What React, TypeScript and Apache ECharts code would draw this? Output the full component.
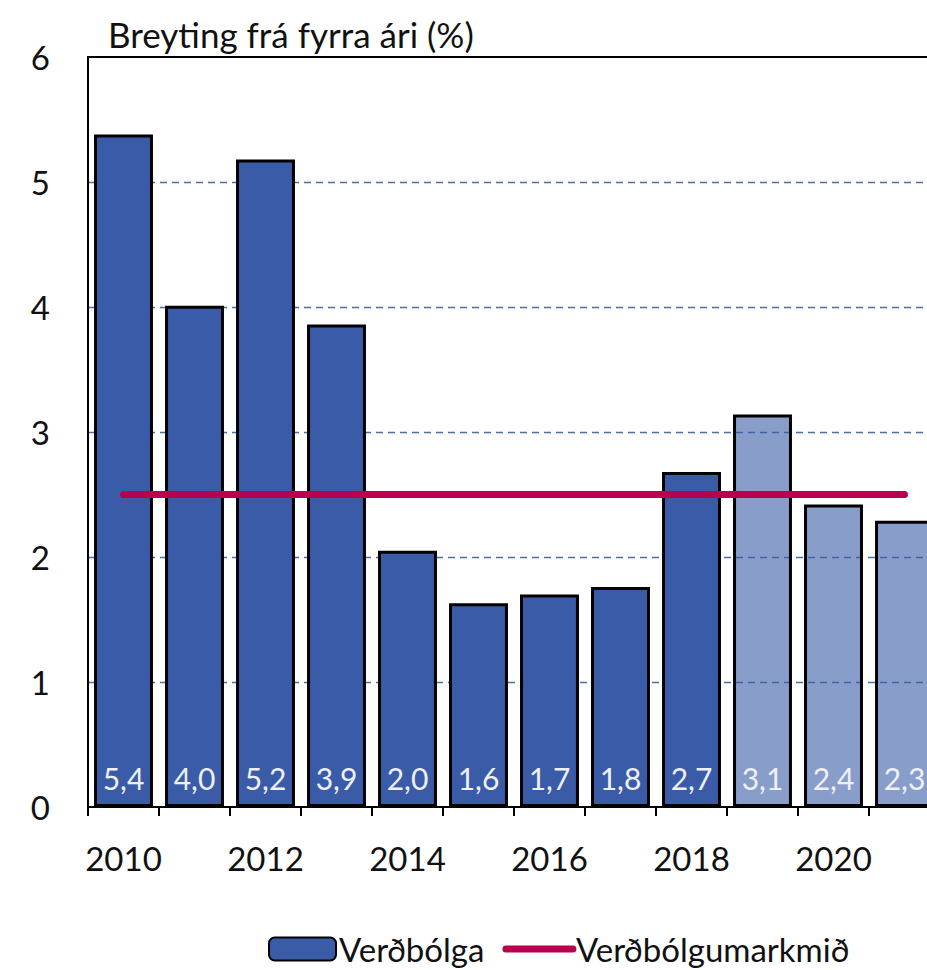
import React, { useEffect, useRef } from "react";
import * as echarts from "echarts";

const categories = ["2010", "2011", "2012", "2013", "2014", "2015", "2016", "2017", "2018", "2019", "2020", "2021"];
const inflation = [5.38, 4.01, 5.18, 3.86, 2.05, 1.63, 1.7, 1.76, 2.68, 3.14, 2.42, 2.29];
const isForecast = [false, false, false, false, false, false, false, false, false, true, true, true];
const target = [2.5, 2.5, 2.5, 2.5, 2.5, 2.5, 2.5, 2.5, 2.5, 2.5, 2.5, 2.5];
const yTicks = [0, 1, 2, 3, 4, 5, 6];

const FONT = "Lato";
const DARK = "#3a5ba8";
const LIGHT = "rgba(58,91,168,0.6)";
const GRID_BLUE = "#4a6fa5";
const TARGET_RED = "#b8004f";

export default function App() {
  const ref = useRef<HTMLDivElement>(null);
  useEffect(() => {
    if (!ref.current) return;
    const chart = echarts.init(ref.current, undefined, { renderer: "svg" });
    chart.setOption({
      animation: false,
      textStyle: { fontFamily: FONT },
      title: {
        text: "Breyting frá fyrra ári (%)",
        left: 103,
        top: 11,
        textStyle: { fontFamily: FONT, fontSize: 35, fontWeight: "normal", color: "#111" },
      },
      grid: {
        left: 88,
        top: 57,
        width: 852,
        height: 750,
        show: false,
      },
      legend: {
        left: 263,
        top: 927,
        itemWidth: 67,
        itemHeight: 23,
        itemGap: 18,
        textStyle: { fontFamily: FONT, fontSize: 33, lineHeight: 34, color: "#111", padding: [0, 0, 0, -2] },
        data: [
          { name: "Verðbólga" },
          {
            name: "Verðbólgumarkmið",
            itemStyle: { opacity: 0 },
            lineStyle: { color: TARGET_RED, width: 7, cap: "round" },
          },
        ],
      },
      xAxis: [
        {
          type: "category",
          data: categories,
          boundaryGap: true,
          axisLine: { lineStyle: { color: "#000", width: 2 } },
          axisTick: { show: true, length: 9, inside: false, lineStyle: { color: "#000", width: 2 }, interval: 0 },
          axisLabel: { interval: 1, margin: 34, fontFamily: FONT, fontSize: 33, color: "#111" },
          splitLine: { show: false },
        },
        {
          type: "category",
          data: categories,
          position: "top",
          axisLine: { show: true, lineStyle: { color: "#000", width: 2 } },
          axisTick: { show: false },
          axisLabel: { show: false },
          splitLine: { show: false },
        },
      ],
      yAxis: {
        type: "value",
        min: yTicks[0],
        max: yTicks[yTicks.length - 1],
        interval: 1,
        axisLine: { show: true, lineStyle: { color: "#000", width: 2 } },
        axisTick: { show: false },
        axisLabel: { margin: 38, fontFamily: FONT, fontSize: 33, color: "#111" },
        splitLine: {
          show: true,
          lineStyle: {
            color: yTicks.map((t) => (t === 0 || t === 6 ? "rgba(0,0,0,0)" : GRID_BLUE)),
            width: 1.3,
            type: [7, 5],
          },
        },
      },
      series: [
        {
          name: "Verðbólga",
          type: "bar",
          xAxisIndex: 0,
          barCategoryGap: "17%",
          itemStyle: { color: DARK, borderColor: "#000", borderWidth: 3 },
          label: {
            show: true,
            position: "insideBottom",
            distance: 14,
            color: "#eef0f6",
            fontFamily: FONT,
            fontSize: 30,
            formatter: (p: any) => Number(p.value).toFixed(1).replace(".", ","),
          },
          data: inflation.map((v, i) => ({
            value: v,
            itemStyle: { color: isForecast[i] ? LIGHT : DARK, borderColor: "#000", borderWidth: 3 },
          })),
          z: 2,
        },
        {
          name: "Verðbólgumarkmið",
          type: "line",
          xAxisIndex: 0,
          data: target,
          symbol: "none",
          showSymbol: false,
          lineStyle: { color: TARGET_RED, width: 7, cap: "round" },
          itemStyle: { color: TARGET_RED },
          z: 5,
        },
      ],
    });
    return () => chart.dispose();
  }, []);
  return (
    <div style={{ position: "absolute", left: 0, top: 0, width: 927, height: 970, overflow: "hidden", background: "#fff" }}>
      <div ref={ref} style={{ position: "absolute", left: 0, top: 0, width: 960, height: 970 }} />
    </div>
  );
}
